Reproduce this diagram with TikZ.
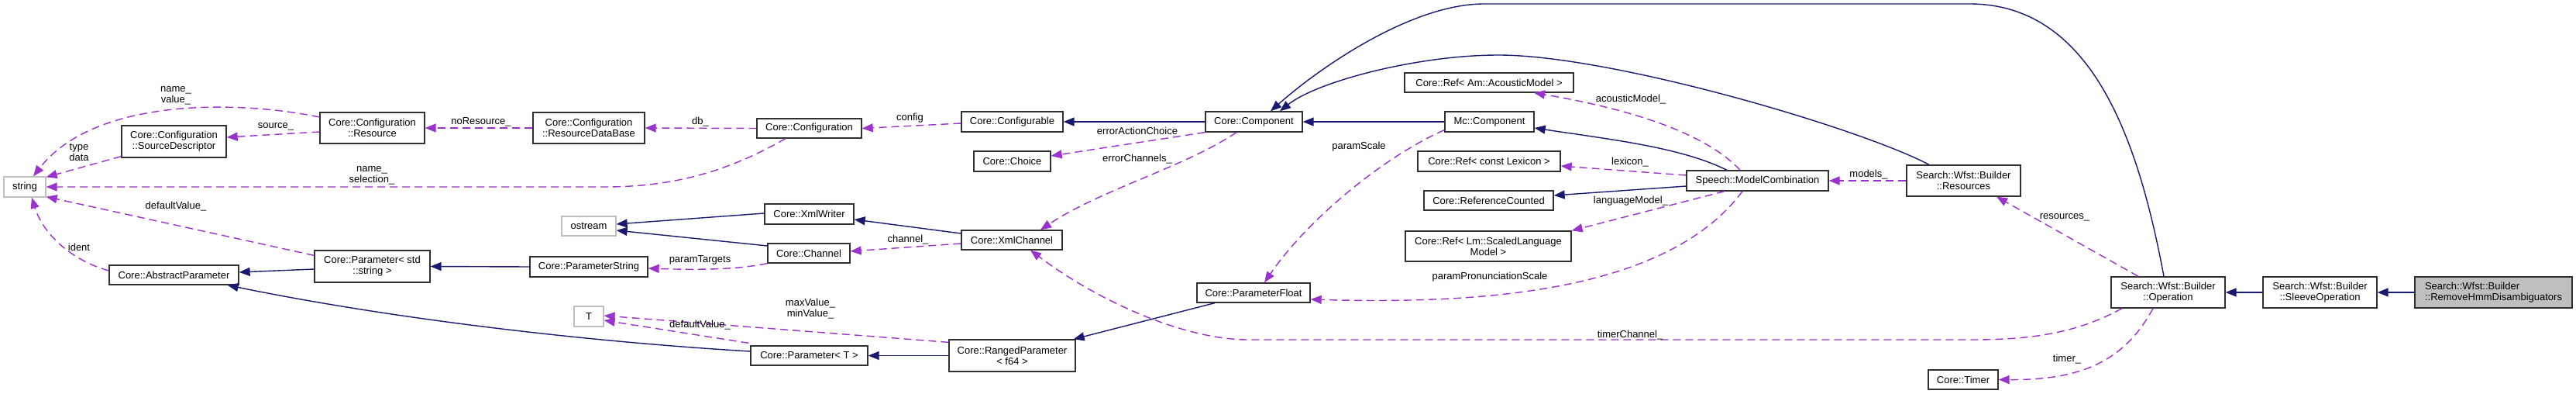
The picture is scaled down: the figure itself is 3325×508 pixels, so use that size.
\documentclass[tikz,border=0pt]{standalone}
\usepackage{fontspec}
\setmainfont{Liberation Sans}
\usetikzlibrary{arrows.meta}
\definecolor{inhc}{HTML}{191970}
\definecolor{depc}{HTML}{9A32CD}
\definecolor{grayb}{HTML}{BFBFBF}
\definecolor{bordc}{HTML}{303030}
\begin{document}
\begin{tikzpicture}[x=1pt,y=-1pt,
  cls/.style={draw=bordc, line width=1.3pt, fill=white, inner sep=0pt, font=\fontsize{13}{14}\selectfont, align=center},
  ext/.style={cls, draw=grayb},
  inh/.style={draw=inhc, line width=1.4pt, -{Triangle[length=14pt,width=11pt]}},
  dep/.style={draw=depc, line width=1.4pt, dash pattern=on 10pt off 6pt, -{Triangle[length=14pt,width=11pt]}},
  lbl/.style={font=\fontsize{13}{14}\selectfont, align=center, inner sep=0pt}]
\fill[white] (0,0) rectangle (3325,508);
\useasboundingbox (0,0) rectangle (3325,508);

% nodes
\node[ext, minimum width=54pt, minimum height=26pt] (str) at (32,241) {string};
\node[cls, minimum width=135pt, minimum height=41pt] (srcdesc) at (224.5,182.5) {Core::Configuration\\::SourceDescriptor};
\node[cls, minimum width=135pt, minimum height=40pt] (res) at (480.5,165) {Core::Configuration\\::Resource};
\node[cls, minimum width=167pt, minimum height=25pt] (absp) at (224.5,354.5) {Core::AbstractParameter};
\node[cls, minimum width=149pt, minimum height=41pt] (pstd) at (480.5,343.5) {Core::Parameter< std\\::string >};
\node[cls, minimum width=144pt, minimum height=40pt] (resdb) at (760,165) {Core::Configuration\\::ResourceDataBase};
\node[cls, minimum width=135pt, minimum height=25pt] (config) at (1044.5,165.5) {Core::Configuration};
\node[ext, minimum width=70pt, minimum height=25pt] (ostream) at (760,291.5) {ostream};
\node[cls, minimum width=115pt, minimum height=26pt] (xmlw) at (1044.5,276) {Core::XmlWriter};
\node[cls, minimum width=106pt, minimum height=25pt] (chan) at (1044,326.5) {Core::Channel};
\node[cls, minimum width=152pt, minimum height=26pt] (pstring) at (760,344) {Core::ParameterString};
\node[ext, minimum width=38pt, minimum height=26pt] (T) at (760,408) {T};
\node[cls, minimum width=151pt, minimum height=25pt] (paramT) at (1044.5,458.5) {Core::Parameter< T >};
\node[cls, minimum width=131pt, minimum height=26pt] (cfgable) at (1306.5,157) {Core::Configurable};
\node[cls, minimum width=99pt, minimum height=26pt] (choice) at (1306.5,208) {Core::Choice};
\node[cls, minimum width=130pt, minimum height=25pt] (xmlch) at (1306,309.5) {Core::XmlChannel};
\node[cls, minimum width=163pt, minimum height=41pt] (ranged) at (1306.5,458.5) {Core::RangedParameter\\< f64 >};
\node[cls, minimum width=125pt, minimum height=26pt] (comp) at (1618.5,157) {Core::Component};
\node[cls, minimum width=146pt, minimum height=25pt] (pfloat) at (1618,377.5) {Core::ParameterFloat};
\node[cls, minimum width=218pt, minimum height=25pt] (refam) at (1922,106.5) {Core::Ref< Am::AcousticModel >};
\node[cls, minimum width=115pt, minimum height=26pt] (mccomp) at (1922.5,157) {Mc::Component};
\node[cls, minimum width=184pt, minimum height=26pt] (reflex) at (1922,208) {Core::Ref< const Lexicon >};
\node[cls, minimum width=167pt, minimum height=25pt] (refcnt) at (1921.5,258.5) {Core::ReferenceCounted};
\node[cls, minimum width=214pt, minimum height=39pt] (reflm) at (1921,317.5) {Core::Ref< Lm::ScaledLanguage\\Model >};
\node[cls, minimum width=183pt, minimum height=26pt] (mcomb) at (2268.5,233) {Speech::ModelCombination};
\node[cls, minimum width=147pt, minimum height=40pt] (resources) at (2534.5,233) {Search::Wfst::Builder\\::Resources};
\node[cls, minimum width=90pt, minimum height=25pt] (timer) at (2534,489.5) {Core::Timer};
\node[cls, minimum width=147pt, minimum height=40pt] (oper) at (2798.5,377) {Search::Wfst::Builder\\::Operation};
\node[cls, minimum width=147pt, minimum height=40pt] (sleeve) at (2994.5,377) {Search::Wfst::Builder\\::SleeveOperation};
\node[cls, fill=grayb, align=left, minimum width=203pt, minimum height=40pt] (remove) at (3218.5,377) {Search::Wfst::Builder\\::RemoveHmmDisambiguators};

% inheritance edges
\draw[inh] (remove.west) -- (sleeve.east);
\draw[inh] (sleeve.west) -- (oper.east);
\draw[inh] ([shift={(-5.5,0)}]oper.north) .. controls (2760,180) and (2700,5) .. (2542,5) -- (1916,5) .. controls (1820,5) and (1700,90) .. ([shift={(21.5,0)}]comp.north);
\draw[inh] ([shift={(-44.5,0)}]resources.north) .. controls (2400,165) and (2080,71) .. (1934,71) .. controls (1830,71) and (1700,105) .. ([shift={(33.5,0)}]comp.north);
\draw[inh] (mccomp.west) -- (comp.east);
\draw[inh] (comp.west) -- (cfgable.east);
\draw[inh] ([shift={(-39.5,0)}]mcomb.north) .. controls (2170,190) and (2080,180) .. ([shift={(0,8)}]mccomp.east);
\draw[inh] ([shift={(0,7)}]mcomb.west) -- ([shift={(0,-6.5)}]refcnt.east);
\draw[inh] ([shift={(0,-8.5)}]xmlch.west) -- ([shift={(0,7)}]xmlw.east);
\draw[inh] ([shift={(0,-1)}]xmlw.west) -- ([shift={(0,-2.5)}]ostream.east);
\draw[inh] ([shift={(0,-9.5)}]chan.west) -- ([shift={(0,5.5)}]ostream.east);
\draw[inh] (pstring.west) -- (pstd.east);
\draw[inh] ([shift={(0,3.5)}]pstd.west) -- ([shift={(0,-3.5)}]absp.east);
\draw[inh] ([shift={(0,-5.5)}]paramT.west) .. controls (750,440) and (500,410) .. ([shift={(-15,0)}]absp.south east);
\draw[inh] (ranged.west) -- (paramT.east);
\draw[inh] ([shift={(-50,0)}]pfloat.south) -- ([shift={(-3,0)}]ranged.north east);

% usage edges
\draw[dep] ([shift={(0,-14)}]res.west) .. controls (300,128) and (120,128) .. ([shift={(11,0)}]str.north);
\node[lbl] (l1) at (227,123) {name\_\\value\_};
\draw[dep] ([shift={(0,-2)}]srcdesc.south west) -- ([shift={(0,1)}]str.north east);
\node[lbl] (l2) at (102,196) {type\\data};
\draw[dep] ([shift={(0,5)}]res.west) -- ([shift={(0,-5.5)}]srcdesc.east);
\node[lbl] (l3) at (356,163) {source\_};
\draw[dep] (resdb.west) -- (res.east);
\node[lbl] (l4) at (621,157) {noResource\_};
\draw[dep] (config.west) -- (resdb.east);
\node[lbl] (l5) at (904,157) {db\_};
\draw[dep] ([shift={(-30.5,0)}]config.south) .. controls (950,215) and (880,241) .. (782,241) -- (str.east);
\node[lbl] (l6) at (480,226) {name\_\\selection\_};
\draw[dep] ([shift={(0,2)}]cfgable.west) -- (config.east);
\node[lbl] (l7) at (1174.5,152) {config};
\draw[dep] (comp.south west) -- ([shift={(0,-7)}]choice.east);
\node[lbl] (l8) at (1468,169) {errorActionChoice};
\draw[dep] ([shift={(-22.5,0)}]comp.south) .. controls (1530,215) and (1420,245) .. ([shift={(37,0)}]xmlch.north);
\node[lbl] (l9) at (1468,205) {errorChannels\_};
\draw[dep] ([shift={(0,-3)}]mccomp.south west) .. controls (1790,200) and (1690,280) .. ([shift={(14,0)}]pfloat.north);
\node[lbl] (l10) at (1754,189) {paramScale};
\draw[dep] ([shift={(-22.5,0)}]mcomb.north) .. controls (2200,170) and (2100,140) .. ([shift={(58,0)}]refam.south);
\node[lbl] (l11) at (2105,128) {acousticModel\_};
\draw[dep] ([shift={(0,-7)}]mcomb.west) -- ([shift={(0,6)}]reflex.east);
\node[lbl] (l12) at (2104,209) {lexicon\_};
\draw[dep] ([shift={(-42.5,0)}]mcomb.south) -- (reflm.north east);
\node[lbl] (l13) at (2105,259) {languageModel\_};
\draw[dep] ([shift={(-19.5,0)}]mcomb.south) .. controls (2150,380) and (1900,392) .. ([shift={(0,8.5)}]pfloat.east);
\node[lbl] (l14) at (1923,357) {paramPronunciationScale};
\draw[dep] (resources.west) -- (mcomb.east);
\node[lbl] (l15) at (2412,225) {models\_};
\draw[dep] ([shift={(-38.5,0)}]oper.north) -- ([shift={(42.5,0)}]resources.south);
\node[lbl] (l16) at (2665,280) {resources\_};
\draw[dep] ([shift={(-59.5,0)}]oper.south) .. controls (2680,430) and (2620,438) .. (2546,438) -- (1611,438) .. controls (1530,438) and (1420,390) .. ([shift={(24,0)}]xmlch.south);
\node[lbl] (l17) at (2104,432) {timerChannel\_};
\draw[dep] ([shift={(-19.5,0)}]oper.south) .. controls (2740,470) and (2680,490) .. (timer.east);
\node[lbl] (l18) at (2668,463) {timer\_};
\draw[dep] ([shift={(0,4.5)}]xmlch.west) -- ([shift={(0,-2.5)}]chan.east);
\node[lbl] (l19) at (1172,309) {channel\_};
\draw[dep] (chan.south west) .. controls (950,348) and (900,348) .. ([shift={(0,2)}]pstring.east);
\node[lbl] (l20) at (903.5,335) {paramTargets};
\draw[dep] ([shift={(0,4)}]ranged.north west) -- ([shift={(0,-1)}]T.east);
\node[lbl] (l21) at (1046,398) {maxValue\_\\minValue\_};
\draw[dep] ([shift={(-2,-3)}]paramT.north west) -- ([shift={(0,5)}]T.east);
\node[lbl] (l22) at (903.5,419) {defaultValue\_};
\draw[dep] ([shift={(0,7)}]pstd.north west) -- ([shift={(0,-1)}]str.south east);
\node[lbl] (l23) at (227,266) {defaultValue\_};
\draw[dep] ([shift={(0,-5.5)}]absp.west) .. controls (90,335) and (55,300) .. ([shift={(9,0)}]str.south);
\node[lbl] (l24) at (102,319) {ident};
\end{tikzpicture}
\end{document}
